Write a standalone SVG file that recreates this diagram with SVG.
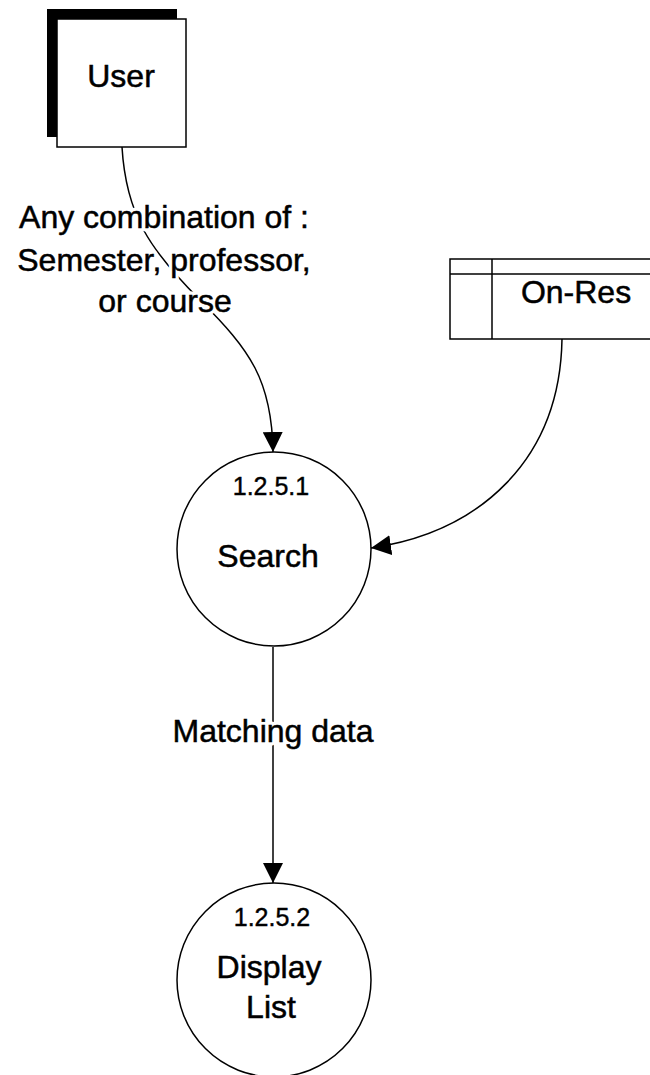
<svg xmlns="http://www.w3.org/2000/svg" width="650" height="1075" viewBox="0 0 650 1075">
  <style>
    .box { fill: #fff; stroke: #000; stroke-width: 1.5; }
    .proc { fill: #fff; stroke: #000; stroke-width: 1.5; }
    .flow { fill: none; stroke: #000; stroke-width: 1.5; }
    .lbl { font-family: "Liberation Sans", Arial, sans-serif; font-size: 32px; fill: #000; stroke: #000; stroke-width: 0.5; text-anchor: middle; }
    .num { font-family: "Liberation Sans", Arial, sans-serif; font-size: 25px; fill: #000; stroke: #000; stroke-width: 0.4; text-anchor: middle; }
    .halo { fill: #fff; stroke: #fff; stroke-width: 7; stroke-linejoin: round; }
  </style>
  <defs>
    <marker id="arrow" viewBox="0 0 20 20" refX="20" refY="10" markerWidth="20" markerHeight="20" markerUnits="userSpaceOnUse" orient="auto">
      <path d="M0,0 L20,10 L0,20 Z" fill="#000"/>
    </marker>
  </defs>

  <!-- data flows -->
  <g id="connectors">
    <path class="flow" d="M122,147 C126,215 150,250 200,300 S272,380 273,452" marker-end="url(#arrow)"/>
    <path class="flow" d="M562,339 C560,460 480,532 371,548" marker-end="url(#arrow)"/>
    <path class="flow" d="M273,647 L273,883" marker-end="url(#arrow)"/>
    <g id="flow-labels">
      <!-- white knock-out behind the labels so the lines break around them -->
      <text class="lbl halo" x="164" y="228">Any combination of :</text>
      <text class="lbl halo" x="164" y="271">Semester, professor,</text>
      <text class="lbl halo" x="165" y="312">or course</text>
      <text class="lbl halo" x="273" y="742">Matching data</text>
      <text class="lbl" x="164" y="228">Any combination of :</text>
      <text class="lbl" x="164" y="271">Semester, professor,</text>
      <text class="lbl" x="165" y="312">or course</text>
      <text class="lbl" x="273" y="742">Matching data</text>
    </g>
  </g>

  <!-- external entity -->
  <g id="user">
    <rect x="47" y="9" width="130" height="128" fill="#000"/>
    <rect class="box" x="57" y="19" width="129" height="128"/>
    <text class="lbl" x="121" y="87">User</text>
  </g>

  <!-- data store -->
  <g id="on-res">
    <path class="box" d="M660,259 L450,259 L450,339 L660,339"/>
    <line class="flow" x1="450" y1="274" x2="660" y2="274"/>
    <line class="flow" x1="492" y1="259" x2="492" y2="339"/>
    <text class="lbl" x="576" y="303">On-Res</text>
  </g>

  <!-- processes -->
  <g id="search">
    <circle class="proc" cx="274" cy="549" r="97"/>
    <text class="num" x="271" y="495">1.2.5.1</text>
    <text class="lbl" x="268" y="567">Search</text>
  </g>

  <g id="display-list">
    <circle class="proc" cx="274" cy="980" r="97"/>
    <text class="num" x="272" y="926">1.2.5.2</text>
    <text class="lbl" x="269" y="978">Display</text>
    <text class="lbl" x="271" y="1018">List</text>
  </g>
</svg>
